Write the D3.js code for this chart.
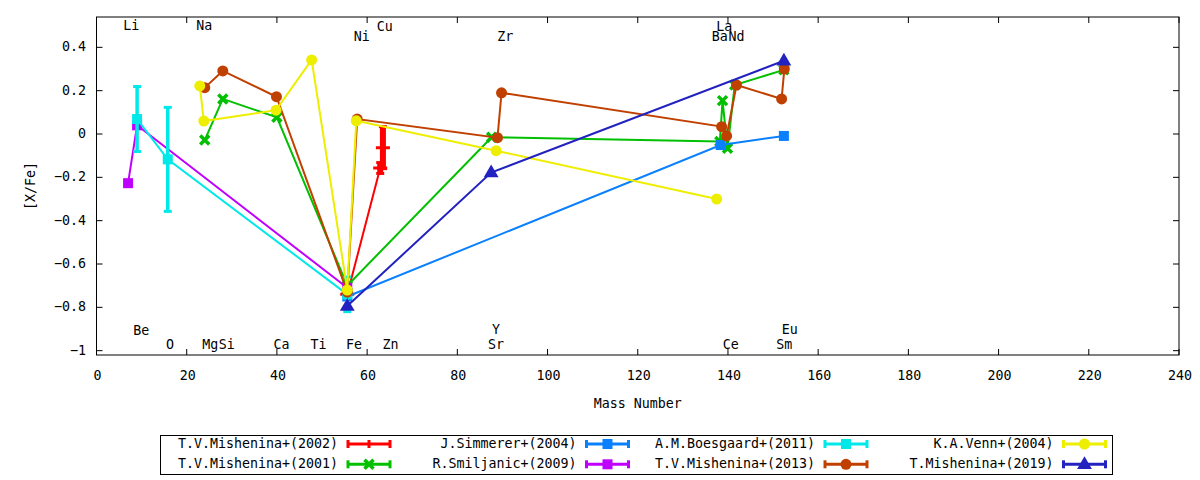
<!DOCTYPE html>
<meta charset="utf-8">
<script src="https://d3js.org/d3.v7.min.js"></script>
<style>
  body { margin: 0; background: #fff; }
  text { font-family: "DejaVu Sans Mono", monospace; font-size: 13.3px; fill: #000; }
</style>
<div id="chart"></div>
<script>

// ---- data: [mass number, [X/Fe], error] ----
var mishenina2002 = [[55.6, -0.74, 0], [62.9, -0.157, 0.025], [63.5, -0.063, 0.097]];
var mishenina2001 = [[24, -0.028, 0], [28, 0.162, 0], [40, 0.077, 0], [55.6, -0.70, 0], [87.6, -0.015, 0],
                     [138.2, -0.035, 0], [138.8, 0.154, 0], [139.9, -0.066, 0], [141.5, 0.226, 0], [152.4, 0.296, 0]];
var simmerer2004  = [[55.6, -0.75, 0], [138.4, -0.051, 0], [152.4, -0.009, 0]];
var smiljanic2009 = [[7, -0.227, 0], [9, 0.04, 0], [55.6, -0.71, 0]];
var boesgaard2011 = [[9, 0.069, 0.15], [15.8, -0.117, 0.24], [55.6, -0.74, 0.08]];
var mishenina2013 = [[24, 0.214, 0], [28, 0.291, 0], [39.9, 0.172, 0], [55.6, -0.73, 0], [57.8, 0.069, 0],
                     [88.9, -0.017, 0], [89.8, 0.19, 0], [138.6, 0.034, 0], [139.7, -0.009, 0],
                     [141.9, 0.226, 0], [151.9, 0.162, 0], [152.5, 0.30, 0]];
var venn2004      = [[22.9, 0.222, 0], [23.8, 0.06, 0], [39.8, 0.11, 0], [47.7, 0.342, 0], [55.6, -0.72, 0],
                     [57.6, 0.061, 0], [88.6, -0.077, 0], [137.5, -0.30, 0]];
var mishenina2019 = [[55.6, -0.794, 0], [87.5, -0.178, 0], [152.4, 0.338, 0]];

var seriesNames = ["T.V.Mishenina+(2002)", "T.V.Mishenina+(2001)", "J.Simmerer+(2004)", "R.Smiljanic+(2009)",
                   "A.M.Boesgaard+(2011)", "T.V.Mishenina+(2013)", "K.A.Venn+(2004)", "T.Mishenina+(2019)"];
var seriesData = [mishenina2002, mishenina2001, simmerer2004, smiljanic2009,
                  boesgaard2011, mishenina2013, venn2004, mishenina2019];
var seriesColors = ["#ff0000", "#00c000", "#0a80ff", "#c000ff", "#00e8e8", "#c04000", "#eeee00", "#2222c0"];
var seriesMarks = ["plus", "cross", "square", "square", "square", "circle", "circle", "triangle"];
var errWidths = [6, 3.5, 3.5, 3.5, 3.5, 3.5, 3.5, 3.5];

// element labels: [name, mass, level]
var elementLabels = [["Li", 7.7, 0.498], ["Na", 23.9, 0.498], ["Ni", 58.8, 0.448], ["Cu", 63.9, 0.494],
                     ["Zr", 90.6, 0.448], ["La", 139.2, 0.496], ["Ba", 138.2, 0.448], ["Nd", 141.9, 0.448],
                     ["Be", 9.9, -0.909], ["O", 16.3, -0.974], ["Mg", 25.2, -0.974], ["Si", 28.9, -0.974],
                     ["Ca", 41, -0.974], ["Ti", 49.2, -0.974], ["Fe", 57.1, -0.974], ["Zn", 65.2, -0.974],
                     ["Y", 88.6, -0.905], ["Sr", 88.6, -0.974], ["Ce", 140.6, -0.974],
                     ["Eu", 153.7, -0.905], ["Sm", 152.5, -0.974]];

var xTicks = [0, 20, 40, 60, 80, 100, 120, 140, 160, 180, 200, 220, 240];
var yTicks = [-1, -0.8, -0.6, -0.4, -0.2, 0, 0.2, 0.4];

// ---- layout ----
var pLeft = 96.5, pRight = 1179, pTop = 17, pBottom = 355;

var svg = d3.select("#chart").append("svg")
    .attr("width", 1200).attr("height", 480);

var x = d3.scaleLinear().domain([0, 240]).range([pLeft, pRight]);
var y = d3.scaleLinear().domain([-1.02, 0.54]).range([pBottom, pTop]);

// frame
svg.append("rect")
    .attr("x", pLeft).attr("y", pTop)
    .attr("width", pRight - pLeft).attr("height", pBottom - pTop)
    .attr("fill", "none").attr("stroke", "#000").attr("stroke-width", 1);

// ticks (inward, mirrored)
var tl = 6;
xTicks.forEach(function(t) {
  svg.append("line").attr("x1", x(t)).attr("x2", x(t)).attr("y1", pBottom).attr("y2", pBottom - tl).attr("stroke", "#000");
  svg.append("line").attr("x1", x(t)).attr("x2", x(t)).attr("y1", pTop).attr("y2", pTop + tl).attr("stroke", "#000");
  svg.append("text").attr("x", x(t) + 1).attr("y", 376).attr("text-anchor", "middle")
      .attr("dominant-baseline", "middle").text(t);
});
yTicks.forEach(function(t) {
  svg.append("line").attr("x1", pLeft).attr("x2", pLeft + tl).attr("y1", y(t)).attr("y2", y(t)).attr("stroke", "#000");
  svg.append("line").attr("x1", pRight).attr("x2", pRight - tl).attr("y1", y(t)).attr("y2", y(t)).attr("stroke", "#000");
  svg.append("text").attr("x", 86).attr("y", y(t)).attr("text-anchor", "end")
      .attr("dominant-baseline", "middle").text(d3.format("~g")(t));
});

// axis titles
svg.append("text").attr("transform", "translate(31," + ((pTop + pBottom) / 2) + ") rotate(-90)")
    .attr("text-anchor", "middle").attr("dominant-baseline", "middle").text("[X/Fe]");
svg.append("text").attr("x", (pLeft + pRight) / 2).attr("y", 404)
    .attr("text-anchor", "middle").attr("dominant-baseline", "middle").text("Mass Number");

// element labels
svg.selectAll("text.el")
  .data(elementLabels)
  .enter()
  .append("text")
    .attr("class", "el")
    .attr("x", function(d) { return x(d[1]); })
    .attr("y", function(d) { return y(d[2]); })
    .attr("text-anchor", "middle")
    .attr("dominant-baseline", "middle")
    .text(function(d) { return d[0]; });

// marker drawing
function drawMark(g, kind, cx, cy, color) {
  if (kind == "square") {
    g.append("rect").attr("x", cx - 5).attr("y", cy - 5).attr("width", 10).attr("height", 10).attr("fill", color);
  } else if (kind == "circle") {
    g.append("circle").attr("cx", cx).attr("cy", cy).attr("r", 5.5).attr("fill", color);
  } else if (kind == "triangle") {
    g.append("path").attr("d", d3.symbol().type(d3.symbolTriangle).size(95)())
      .attr("transform", "translate(" + cx + "," + (cy + 0.5) + ")").attr("fill", color);
  } else if (kind == "cross") {
    g.append("path").attr("d", "M-4.5,-4.5L4.5,4.5M-4.5,4.5L4.5,-4.5")
      .attr("transform", "translate(" + cx + "," + cy + ")")
      .attr("stroke", color).attr("stroke-width", 3.5).attr("fill", "none");
  } else if (kind == "plus") {
    g.append("path").attr("d", "M-7,0L7,0M0,-7L0,7")
      .attr("transform", "translate(" + cx + "," + cy + ")")
      .attr("stroke", color).attr("stroke-width", 3).attr("fill", "none");
  }
}

var line = d3.line()
    .x(function(d) { return x(d[0]); })
    .y(function(d) { return y(d[1]); });

seriesData.forEach(function(data, i) {
  var color = seriesColors[i];
  var g = svg.append("g");
  g.append("path")
    .attr("d", line(data))
    .attr("fill", "none")
    .attr("stroke", color)
    .attr("stroke-width", 2);
  // error bars
  data.forEach(function(d) {
    if (d[2] > 0) {
      var cx = x(d[0]), y1 = y(d[1] - d[2]), y2 = y(d[1] + d[2]);
      g.append("line").attr("x1", cx).attr("x2", cx).attr("y1", y1).attr("y2", y2)
        .attr("stroke", color).attr("stroke-width", errWidths[i]);
      g.append("line").attr("x1", cx - 4).attr("x2", cx + 4).attr("y1", y1).attr("y2", y1)
        .attr("stroke", color).attr("stroke-width", 3);
      g.append("line").attr("x1", cx - 4).attr("x2", cx + 4).attr("y1", y2).attr("y2", y2)
        .attr("stroke", color).attr("stroke-width", 3);
    }
  });
  data.forEach(function(d) {
    drawMark(g, seriesMarks[i], x(d[0]), y(d[1]), color);
  });
});

// legend
svg.append("rect").attr("x", 160.5).attr("y", 435.5).attr("width", 952).attr("height", 39)
    .attr("fill", "none").attr("stroke", "#000");

seriesNames.forEach(function(name, i) {
  var col = Math.floor(i / 2), row = i % 2;
  var tx = 338 + col * 238.5, ly = 444 + row * 20.3;
  var x1 = tx + 10, x2 = tx + 52;
  var color = seriesColors[i];
  var g = svg.append("g");
  g.append("text").attr("x", tx).attr("y", ly).attr("text-anchor", "end")
    .attr("dominant-baseline", "middle").text(name);
  g.append("line").attr("x1", x1).attr("x2", x2).attr("y1", ly).attr("y2", ly)
    .attr("stroke", color).attr("stroke-width", 3);
  g.append("line").attr("x1", x1).attr("x2", x1).attr("y1", ly - 4).attr("y2", ly + 4)
    .attr("stroke", color).attr("stroke-width", 3);
  g.append("line").attr("x1", x2).attr("x2", x2).attr("y1", ly - 4).attr("y2", ly + 4)
    .attr("stroke", color).attr("stroke-width", 3);
  if (seriesMarks[i] == "plus") {
    g.append("line").attr("x1", (x1 + x2) / 2).attr("x2", (x1 + x2) / 2).attr("y1", ly - 4).attr("y2", ly + 4)
      .attr("stroke", color).attr("stroke-width", 3);
  } else {
    drawMark(g, seriesMarks[i], (x1 + x2) / 2, ly, color);
  }
});

</script>
